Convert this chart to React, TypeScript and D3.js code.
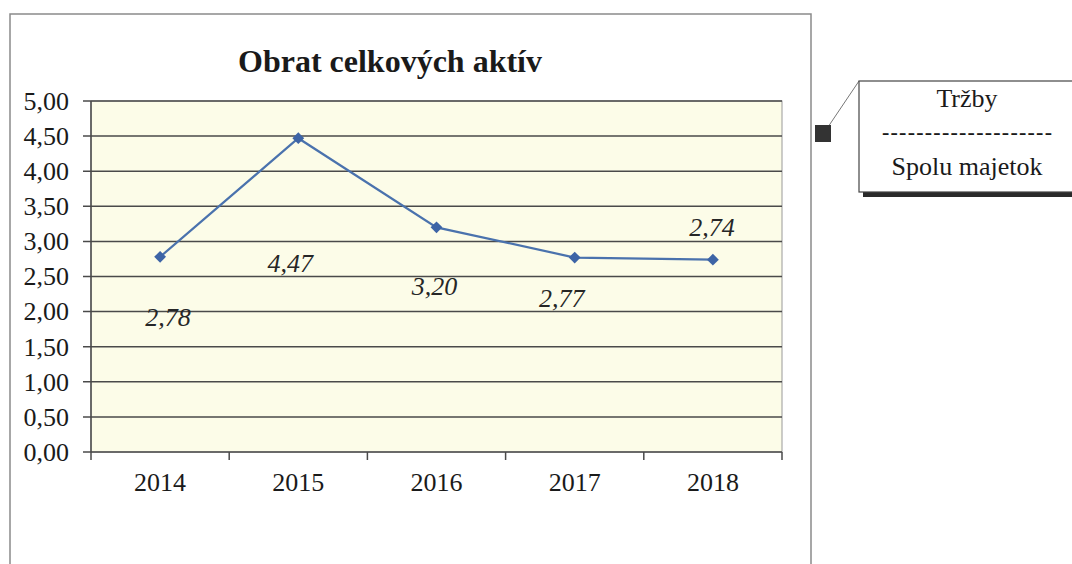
import React from "react";
import * as d3 from "d3";

const years = ["2014", "2015", "2016", "2017", "2018"];
const turnover = [2.78, 4.47, 3.2, 2.77, 2.74];
const yTicks = [0, 0.5, 1, 1.5, 2, 2.5, 3, 3.5, 4, 4.5, 5];
// hand-placed label offsets (px) as in the original
const labelShift: [number, number][] = [
  [8, 69],
  [-8, 134],
  [-2, 68],
  [-13, 49],
  [-1, -24],
];

const W = 1072;
const H = 564;
const plot = { left: 91, right: 782, top: 101, bottom: 452 };
const serif = "'Liberation Serif', 'DejaVu Serif', serif";

const fmt = (v: number): string => d3.format(".2f")(v).replace(".", ",");

const App: React.FC = () => {
  const x = d3
    .scaleBand<string>()
    .domain(years)
    .range([plot.left, plot.right])
    .padding(0);
  const y = d3.scaleLinear().domain([0, 5]).range([plot.bottom, plot.top]);

  const pts = years.map((yr, i) => ({
    x: (x(yr) ?? 0) + x.bandwidth() / 2,
    y: y(turnover[i]),
    v: turnover[i],
  }));

  const line = d3
    .line<{ x: number; y: number }>()
    .x((d) => d.x)
    .y((d) => d.y);

  const boundaries = [...years.map((yr) => x(yr) ?? 0), plot.right];
  const marker = d3.symbol().type(d3.symbolSquare).size(70)();

  return (
    <svg
      width={W}
      height={H}
      style={{ position: "absolute", left: 0, top: 0, background: "#fff" }}
    >
      {/* chart frame */}
      <rect
        x={10}
        y={14}
        width={801}
        height={H}
        fill="#fff"
        stroke="#8a8a8a"
        strokeWidth={1.5}
      />

      <text
        x={390}
        y={72}
        textAnchor="middle"
        fontFamily={serif}
        fontSize={32}
        fontWeight="bold"
        fill="#1a1a1a"
      >
        Obrat celkových aktív
      </text>

      {/* plot area */}
      <rect
        x={plot.left}
        y={plot.top}
        width={plot.right - plot.left}
        height={plot.bottom - plot.top}
        fill="#fcfce8"
        stroke="#9a9a9a"
        strokeWidth={1}
      />

      {yTicks.map((t) => (
        <g key={t}>
          <line
            x1={plot.left - 8}
            x2={plot.right}
            y1={y(t)}
            y2={y(t)}
            stroke="#4a4a4a"
            strokeWidth={1.5}
          />
          <text
            x={69}
            y={y(t)}
            dy="0.34em"
            textAnchor="end"
            fontFamily={serif}
            fontSize={26}
            fill="#1a1a1a"
          >
            {fmt(t)}
          </text>
        </g>
      ))}

      <line
        x1={plot.left}
        x2={plot.left}
        y1={plot.top}
        y2={plot.bottom}
        stroke="#4a4a4a"
        strokeWidth={1.5}
      />

      {boundaries.map((b, i) => (
        <line
          key={i}
          x1={b}
          x2={b}
          y1={plot.bottom}
          y2={plot.bottom + 8}
          stroke="#4a4a4a"
          strokeWidth={1.5}
        />
      ))}

      {years.map((yr) => (
        <text
          key={yr}
          x={(x(yr) ?? 0) + x.bandwidth() / 2}
          y={491}
          textAnchor="middle"
          fontFamily={serif}
          fontSize={26}
          fill="#1a1a1a"
        >
          {yr}
        </text>
      ))}

      <path
        d={line(pts) ?? ""}
        fill="none"
        stroke="#4a72ad"
        strokeWidth={2.2}
      />
      {pts.map((p, i) => (
        <path
          key={i}
          d={marker ?? ""}
          transform={`translate(${p.x},${p.y}) rotate(45)`}
          fill="#3d64a6"
        />
      ))}
      {pts.map((p, i) => (
        <text
          key={i}
          x={p.x + labelShift[i][0]}
          y={p.y + labelShift[i][1]}
          textAnchor="middle"
          fontFamily={serif}
          fontSize={26}
          fontStyle="italic"
          fill="#262626"
        >
          {fmt(p.v)}
        </text>
      ))}

      {/* formula callout */}
      <line x1={828} y1={127} x2={859} y2={81} stroke="#777" strokeWidth={1} />
      <rect x={815} y={125} width={16} height={17} fill="#333" />
      <rect x={863} y={85} width={215} height={112} fill="#2a2a2a" />
      <rect
        x={859}
        y={81}
        width={215}
        height={111}
        fill="#fff"
        stroke="#444"
        strokeWidth={1.2}
      />
      <text
        x={967}
        y={107}
        textAnchor="middle"
        fontFamily={serif}
        fontSize={26}
        fill="#1a1a1a"
      >
        Tržby
      </text>
      <text
        x={967}
        y={139}
        textAnchor="middle"
        fontFamily={serif}
        fontSize={22}
        fontWeight="bold"
        fill="#1a1a1a"
        textLength={170}
      >
        --------------------
      </text>
      <text
        x={967}
        y={175}
        textAnchor="middle"
        fontFamily={serif}
        fontSize={26}
        fill="#1a1a1a"
      >
        Spolu majetok
      </text>
    </svg>
  );
};

export default App;
